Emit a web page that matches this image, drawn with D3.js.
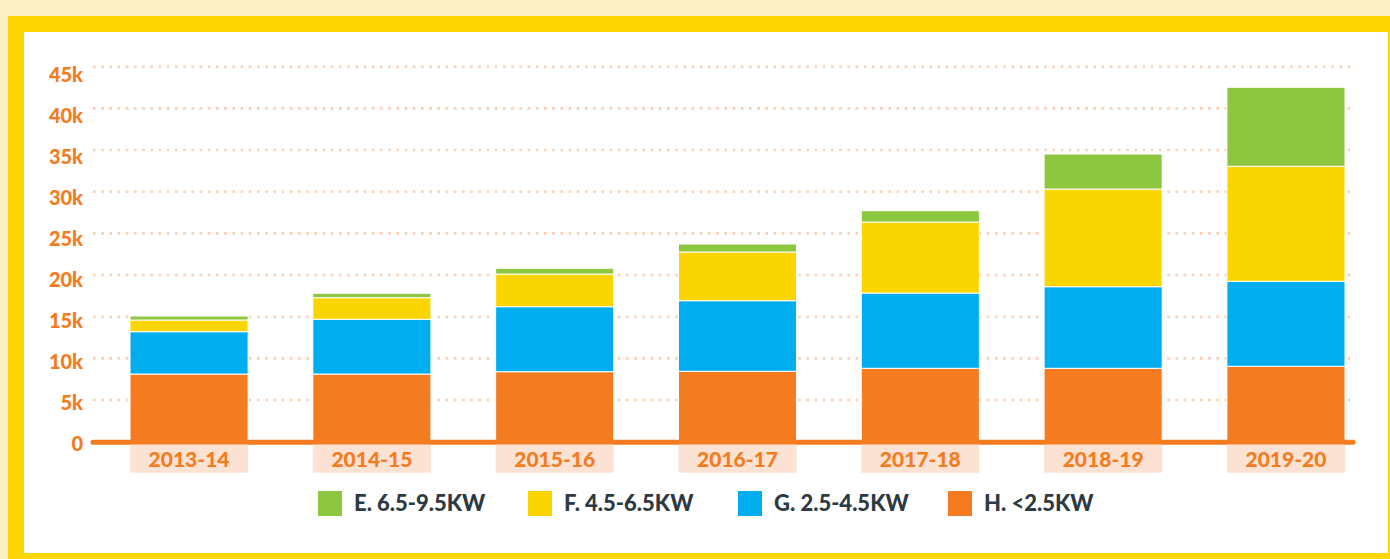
<!DOCTYPE html>
<html>
<head>
<meta charset="utf-8">
<script src="https://cdn.jsdelivr.net/npm/d3@7"></script>
<style>
  body { margin: 0; background: #fef0c5; }
  svg { display: block; font-family: Lato, "Open Sans", sans-serif; font-weight: 900; }
</style>
</head>
<body>
<div id="chart"></div>
<script>
// Fiscal years on the x axis
const years = ['2013-14', '2014-15', '2015-16', '2016-17', '2017-18', '2018-19', '2019-20'];

// Series values (stacked bottom to top: H, G, F, E)
const seriesH = [8120, 8120, 8400, 8450, 8810, 8810, 9050];
const seriesG = [5080, 6570, 7800, 8470, 9030, 9790, 10200];
const seriesF = [1400, 2590, 3920, 5840, 8520, 11720, 13800];
const seriesE = [480, 530, 690, 960, 1360, 4200, 9480];

const seriesKeys = ['H', 'G', 'F', 'E'];
const seriesNames = { E: 'E. 6.5-9.5KW', F: 'F. 4.5-6.5KW', G: 'G. 2.5-4.5KW', H: 'H. <2.5KW' };
const legendOrder = ['E', 'F', 'G', 'H'];

const yTicks = [0, 5000, 10000, 15000, 20000, 25000, 30000, 35000, 40000, 45000];

const colors = { E: '#8dc63f', F: '#fbd500', G: '#00aeef', H: '#f47b20' };
const orange = '#f47b20';

const rows = years.map((year, i) => ({
  year, H: seriesH[i], G: seriesG[i], F: seriesF[i], E: seriesE[i]
}));

const W = 1390, H = 559;

const svg = d3.select('#chart')
  .append('svg')
  .attr('width', W)
  .attr('height', H);

// Frame: cream background, yellow border, white panel
svg.append('rect').attr('width', W).attr('height', H).attr('fill', '#fef0c5');
svg.append('rect').attr('x', 8).attr('y', 16).attr('width', W).attr('height', H).attr('fill', '#fdd500');
svg.append('rect').attr('x', 24).attr('y', 32).attr('width', 1364).attr('height', 521).attr('fill', '#ffffff');

const x = d3.scaleBand()
  .domain(years)
  .range([130, 1345])
  .paddingInner(0.354)
  .paddingOuter(0);

const y = d3.scaleLinear()
  .domain([0, 45000])
  .range([441.7, 66.7]);

// tick labels sit a little below their gridlines, drifting more toward the top
const yLabel = d3.scaleLinear()
  .domain([0, 45000])
  .range([444, 75]);

const gridX0 = 93, gridX1 = 1353;

// Dotted gridlines
svg.append('g')
  .selectAll('line')
  .data(yTicks.filter(d => d > 0))
  .join('line')
  .attr('x1', gridX0)
  .attr('x2', gridX1)
  .attr('y1', d => y(d))
  .attr('y2', d => y(d))
  .attr('stroke', '#fbcfb2')
  .attr('stroke-width', 2.6)
  .attr('stroke-dasharray', '2.6,5.6');

// Y-Axis labels
const yAxis = svg.append('g')
  .attr('transform', `translate(${gridX0},0)`)
  .call(d3.axisLeft(yLabel).tickValues(yTicks).tickSize(0).tickPadding(10)
    .tickFormat(d => d === 0 ? '0' : (d / 1000) + 'k'));
yAxis.select('.domain').remove();
yAxis.selectAll('text')
  .attr('fill', orange)
  .style('font-size', '20px')
  .style('font-family', 'Lato, sans-serif')
  .style('font-weight', 900);

// Stacked bars
const stack = d3.stack().keys(seriesKeys);
const stacked = stack(rows);

svg.append('g')
  .selectAll('g')
  .data(stacked)
  .join('g')
  .attr('fill', d => colors[d.key])
  .selectAll('rect')
  .data(d => d)
  .join('rect')
  .attr('x', d => x(d.data.year))
  .attr('width', x.bandwidth())
  .attr('y', d => y(d[1]))
  .attr('height', d => y(d[0]) - y(d[1]))
  .attr('stroke', '#ffffff')
  .attr('stroke-width', 1);

// X-Axis baseline
svg.append('line')
  .attr('x1', gridX0)
  .attr('x2', gridX1)
  .attr('y1', y(0) + 0.5)
  .attr('y2', y(0) + 0.5)
  .attr('stroke', orange)
  .attr('stroke-width', 5)
  .attr('stroke-linecap', 'round');

// Category labels on a pale box
const labels = svg.append('g')
  .selectAll('g')
  .data(years)
  .join('g')
  .attr('transform', d => `translate(${x(d)},${y(0) + 3})`);

labels.append('rect')
  .attr('width', x.bandwidth())
  .attr('height', 28)
  .attr('fill', '#fce2d3');

labels.append('text')
  .attr('x', x.bandwidth() / 2)
  .attr('y', 22)
  .attr('text-anchor', 'middle')
  .attr('fill', orange)
  .style('font-size', '21px')
  .text(d => d);

// Legend
const lx = d3.scalePoint().domain(legendOrder).range([318, 948]);
const legend = svg.append('g')
  .selectAll('g')
  .data(legendOrder)
  .join('g')
  .attr('transform', d => `translate(${lx(d)},491)`);

legend.append('rect')
  .attr('width', 24)
  .attr('height', 25)
  .attr('fill', d => colors[d]);

legend.append('text')
  .attr('x', 36)
  .attr('y', 20)
  .attr('fill', '#2d3a44')
  .style('font-size', '22px')
  .text(d => seriesNames[d]);
</script>
</body>
</html>
